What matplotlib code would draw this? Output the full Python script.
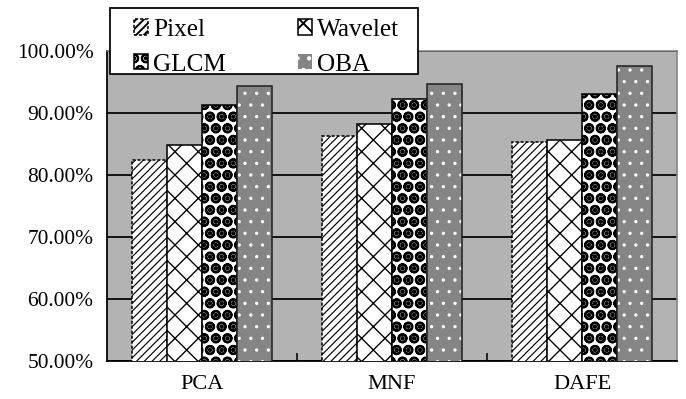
import matplotlib
matplotlib.use("Agg")
import matplotlib.pyplot as plt
from matplotlib.patches import Rectangle
import numpy as np

# Classification accuracy (%) by feature-extraction method and classifier input
categories = ["PCA", "MNF", "DAFE"]
series_names = ["Pixel", "Wavelet", "GLCM", "OBA"]
pixel = [82.4, 86.3, 85.4]
wavelet = [84.8, 88.3, 85.6]
glcm = [91.3, 92.3, 93.1]
oba = [94.4, 94.6, 97.6]
y_ticks = [50, 60, 70, 80, 90, 100]

plt.rcParams["font.family"] = ["Liberation Serif", "DejaVu Serif"]

DPI = 140
fig = plt.figure(figsize=(686 / DPI, 399 / DPI), dpi=DPI)
ax = fig.add_axes([107 / 686, 1 - 361 / 399, 570 / 686, 310 / 399])
ax.set_facecolor("#b3b3b3")

x = np.arange(len(categories))
w = 0.184
offsets = (np.arange(4) - 1.5) * w

handles = []

# Pixel: fine diagonal lines on white
with plt.rc_context({"hatch.linewidth": 0.6}):
    b = ax.bar(x + offsets[0], pixel, w, color="white",
               edgecolor="black", hatch="//////", linewidth=0.8,
               linestyle=(0, (2, 1.2)), zorder=3)
handles.append(b)

# Wavelet: diamond cross-hatch on white
with plt.rc_context({"hatch.linewidth": 0.7}):
    b = ax.bar(x + offsets[1], wavelet, w, color="white",
               edgecolor="black", hatch="xx", linewidth=0.8, zorder=3)
handles.append(b)

# GLCM: packed dark balls (ring + core) on white
with plt.rc_context({"hatch.linewidth": 1.1}):
    b = ax.bar(x + offsets[2], glcm, w, color="white",
               edgecolor="black", hatch="OO..", linewidth=0.8, zorder=3)
handles.append(b)

# OBA: stippled grey with white dots
with plt.rc_context({"hatch.linewidth": 0.5}):
    b = ax.bar(x + offsets[3], oba, w, color="#858585",
               edgecolor="white", hatch="..", linewidth=0, zorder=3)
ax.bar(x + offsets[3], oba, w, fill=False, edgecolor="#222222",
       linewidth=0.8, zorder=4)
handles.append(b)

ax.set_xlim(-0.5, len(categories) - 0.5)
ax.set_ylim(y_ticks[0], y_ticks[-1])
ax.set_yticks(y_ticks)
ax.set_yticklabels([f"{v:.2f}%" for v in y_ticks])
ax.set_xticks(x)
ax.set_xticklabels(categories)
ax.set_xticks(x[:-1] + 0.5, minor=True)

ax.tick_params(axis="y", length=0, pad=7, labelsize=11)
ax.tick_params(axis="x", which="major", length=0, pad=7, labelsize=11.5)
ax.tick_params(axis="x", which="minor", direction="in", length=4,
               width=0.8, color="black")

ax.yaxis.grid(True, color="black", linewidth=0.9)
ax.set_axisbelow(True)

ax.spines["left"].set_color("black")
ax.spines["bottom"].set_color("black")
ax.spines["left"].set_linewidth(0.9)
ax.spines["bottom"].set_linewidth(0.9)
for s in ("top", "right"):
    ax.spines[s].set_color("#808080")
    ax.spines[s].set_linewidth(0.8)

# Legend box overlapping the top of the plot area
box = Rectangle((110 / 686, 1 - 74 / 399), 308 / 686, 66 / 399,
                transform=fig.transFigure, facecolor="white",
                edgecolor="black", linewidth=0.9, zorder=4)
fig.add_artist(box)

# Row-wise order: Pixel, Wavelet / GLCM, OBA (legend fills column-first)
order = [0, 2, 1, 3]
leg = fig.legend([handles[i] for i in order], [series_names[i] for i in order],
                 ncol=2, loc="upper left",
                 bbox_to_anchor=(134 / 686, 1 - 72 / 399, (399 - 134) / 686, 53 / 399),
                 bbox_transform=fig.transFigure, mode="expand",
                 fontsize=13, frameon=False,
                 handlelength=0.55, handleheight=0.55, handletextpad=0.2,
                 borderpad=0, labelspacing=0.5, columnspacing=1.0,
                 borderaxespad=0)
leg.set_zorder(5)

fig.savefig("out.png", dpi=DPI)
